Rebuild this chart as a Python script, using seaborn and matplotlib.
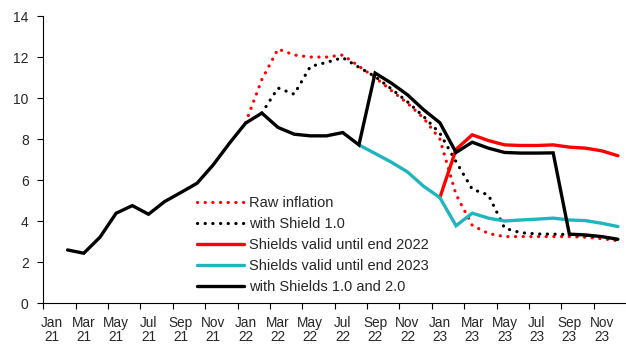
import numpy as np
import pandas as pd
import matplotlib
matplotlib.use("Agg")
import matplotlib.pyplot as plt
import seaborn as sns

# Monthly series, Jan 2021 .. Dec 2023 (36 months); None = no value for that month
raw_inflation = [None] * 12 + [
    8.8, 10.9, 12.39, 12.1, 12.0, 12.0, 12.1, 11.55, 11.0, 10.37, 9.75, 9.02,
    8.0, 5.3, 3.8, 3.4, 3.25, 3.25, 3.25, 3.25, 3.25, 3.22, 3.15, 3.05,
]
shield_1 = [None] * 13 + [
    9.27, 10.49, 10.19, 11.54, 11.74, 11.97, 11.5, 11.05, 10.45, 9.82, 9.1,
    8.29, 6.9, 5.56, 5.28, 3.66, 3.44, 3.38, 3.37, 3.35, 3.3, 3.25, 3.1,
]
valid_2022 = [None] * 24 + [
    5.15, 7.5, 8.21, 7.93, 7.72, 7.69, 7.69, 7.72, 7.61, 7.56, 7.43, 7.19,
]
valid_2023 = [None] * 19 + [
    7.72, 7.3, 6.88, 6.4, 5.7,
    5.15, 3.78, 4.39, 4.15, 4.01, 4.06, 4.1, 4.15, 4.06, 4.03, 3.9, 3.74,
]
shields_1_2 = [None] + [
    2.6, 2.44, 3.22, 4.39, 4.76, 4.34, 4.96, 5.4, 5.85, 6.75, 7.8,
    8.78, 9.27, 8.57, 8.24, 8.16, 8.16, 8.32, 7.72, 11.22, 10.73, 10.16, 9.43,
    8.8, 7.35, 7.85, 7.56, 7.35, 7.32, 7.32, 7.33, 3.37, 3.33, 3.25, 3.12,
]

tick_labels = [
    "Jan\n21", "Mar\n21", "May\n21", "Jul\n21", "Sep\n21", "Nov\n21",
    "Jan\n22", "Mar\n22", "May\n22", "Jul\n22", "Sep\n22", "Nov\n22",
    "Jan\n23", "Mar\n23", "May\n23", "Jul\n23", "Sep\n23", "Nov\n23",
]

series = [
    ("Raw inflation", raw_inflation, "#FF0000", "dot"),
    ("with Shield 1.0", shield_1, "#000000", "dot"),
    ("Shields valid until end 2022", valid_2022, "#FF0000", "solid"),
    ("Shields valid until end 2023", valid_2023, "#1FB5BE", "solid"),
    ("with Shields 1.0 and 2.0", shields_1_2, "#000000", "solid"),
]

sns.set_style("white")
plt.rcParams["font.family"] = ["Liberation Sans", "DejaVu Sans"]

W, H = 626, 345
fig = plt.figure(figsize=(W / 100, H / 100), dpi=100)
x0, x1, y0, y1 = 43.3, 626.0, 303.3, 16.0
ax = fig.add_axes([x0 / W, 1 - y0 / H, (x1 - x0) / W, (y0 - y1) / H])

for name, values, color, kind in series:
    df = pd.DataFrame({"month": np.arange(len(values)), "value": values}).dropna()
    if kind == "dot":
        sns.lineplot(data=df, x="month", y="value", ax=ax, color=color,
                     linewidth=2.3, linestyle=(0, (0.05, 2.35)),
                     dash_capstyle="round", label=name)
    else:
        sns.lineplot(data=df, x="month", y="value", ax=ax, color=color,
                     linewidth=2.4, solid_joinstyle="miter", label=name)

ax.set_xlim(-0.5, 35.5)
ax.set_ylim(0, 14)
ax.set_xlabel("")
ax.set_ylabel("")

# tick marks between month pairs, labels centred on the first month of each pair
ax.set_xticks(np.arange(-0.5, 35, 2))
ax.set_xticklabels([])
ax.set_xticks(np.arange(0, 36, 2), minor=True)
ax.set_xticklabels(tick_labels, minor=True, fontsize=9.8, linespacing=0.97)
ax.tick_params(axis="x", which="major", direction="out", length=4.5, width=0.8,
               color="#000000", bottom=True)
ax.tick_params(axis="x", which="minor", length=0, pad=9.5, bottom=True)

ax.set_yticks(np.arange(0, 15, 2))
ax.set_yticklabels([str(v) for v in range(0, 15, 2)], fontsize=10)
ax.tick_params(axis="y", direction="out", length=4.5, width=0.8, color="#000000",
               pad=6, left=True)

for side in ("top", "right"):
    ax.spines[side].set_visible(False)
for side in ("left", "bottom"):
    ax.spines[side].set_color("#000000")
    ax.spines[side].set_linewidth(0.8)

ax.legend(loc="upper left", bbox_to_anchor=(197 / W, 1 - 196 / H),
          bbox_transform=fig.transFigure, frameon=False, fontsize=10.5,
          handlelength=3.2, handletextpad=0.35, labelspacing=0.48,
          borderpad=0, borderaxespad=0)

fig.savefig("out.png", dpi=100)
